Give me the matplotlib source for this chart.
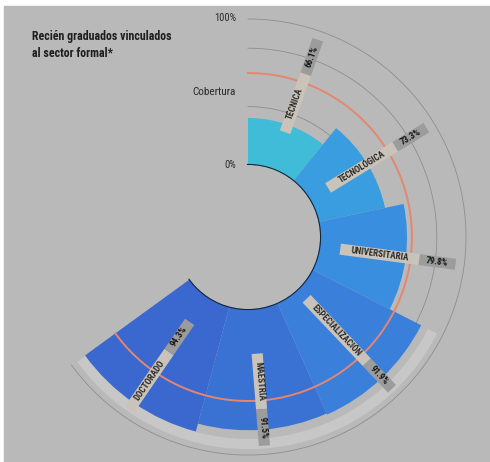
import numpy as np
import matplotlib.pyplot as plt
from matplotlib.patches import Rectangle

plt.rcParams['font.family'] = ['Roboto Condensed', 'DejaVu Sans']

# datos
niveles = ['TÉCNICA', 'TECNOLÓGICA', 'UNIVERSITARIA', 'ESPECIALIZACIÓN', 'MAESTRÍA', 'DOCTORADO']
vinculados = [66.1, 73.3, 79.8, 91.9, 91.5, 94.3]
cobertura = 81.5
anillos = [70, 90, 100]
colores = ['#40bcd9', '#3a9ddf', '#3a8edf', '#3a80db', '#3a72d4', '#3a68cf']

# donde empieza cada etiqueta (en unidades del eje radial)
inicio_etiqueta = [63.4, 57.5, 57.2, 54.5, 65.4, 60.6]
fin_etiqueta = 97
largo_pct = 12.5

base = 50
paso = np.deg2rad(39)
total = paso * len(niveles)
angulos = paso * (np.arange(len(niveles)) + 0.5)

fig = plt.figure(figsize=(4.9, 4.62), dpi=100, facecolor='white')
fig.patches.append(Rectangle((4 / 490, 0), 1, 1 - 6 / 462, transform=fig.transFigure,
                             color='#b9b9b9', zorder=-10))

ax = fig.add_axes([0.0373, -0.0102, 0.9376, 0.9944], projection='polar')
ax.set_theta_zero_location('N')
ax.set_theta_direction(-1)
ax.set_ylim(base, 104)
ax.set_rorigin(25.34)
ax.set_axis_off()

arco = np.linspace(0, total, 300)

# franja clara exterior
franja = np.linspace(np.deg2rad(117), total, 200)
ax.fill_between(franja, 94.3, 97.8, color='#cdcdcd', alpha=0.7, zorder=0.5, lw=0)

for r in anillos:
    ax.plot(arco, np.full_like(arco, r), color='#8e8e8e', lw=0.6, zorder=1)

ax.bar(angulos, np.array(vinculados) - base, width=paso, bottom=base,
       color=colores, align='center', zorder=2)

ax.plot(arco, np.full_like(arco, cobertura), color='#e5876f', lw=1.4, zorder=3)
ax.plot(arco, np.full_like(arco, base), color='#15263a', lw=1.6, zorder=3)

# etiquetas radiales
for t, nombre, v, r0 in zip(angulos, niveles, vinculados, inicio_etiqueta):
    grados = np.rad2deg(t)
    if grados < 180:
        rot = 90 - grados
        corte = fin_etiqueta - largo_pct
        caja_nombre = (r0, corte)
        caja_pct = (corte, fin_etiqueta)
    else:
        rot = 270 - grados
        corte = r0 + largo_pct
        caja_nombre = (corte, fin_etiqueta)
        caja_pct = (r0, corte)
    ax.plot([t, t], caja_nombre, color='#c9c3b9', lw=8, solid_capstyle='butt', zorder=4)
    ax.plot([t, t], caja_pct, color='#9c9c9c', lw=8, solid_capstyle='butt', zorder=4)
    ax.text(t, sum(caja_nombre) / 2, nombre, rotation=rot, rotation_mode='anchor',
            ha='center', va='center', fontsize=6.5, fontweight='bold', color='#2a2a2a', zorder=5)
    ax.text(t, sum(caja_pct) / 2, f'{v:.1f}%', rotation=rot, rotation_mode='anchor',
            ha='center', va='center', fontsize=6.5, fontweight='bold', color='#151515', zorder=5)

fig.text(32 / 490, 1 - 30 / 462, 'Recién graduados vinculados\nal sector formal*',
         ha='left', va='top', fontsize=8.6, fontweight='bold', color='#1e1e1e', linespacing=1.4)
fig.text(236 / 490, 1 - 18 / 462, '100%', ha='right', va='center', fontsize=7.5, color='#2a2a2a')
fig.text(236 / 490, 1 - 92 / 462, 'Cobertura', ha='right', va='center', fontsize=8, color='#2a2a2a')
fig.text(236 / 490, 1 - 165 / 462, '0%', ha='right', va='center', fontsize=7.5, color='#2a2a2a')

fig.savefig('out.png', dpi=100, facecolor=fig.get_facecolor())
